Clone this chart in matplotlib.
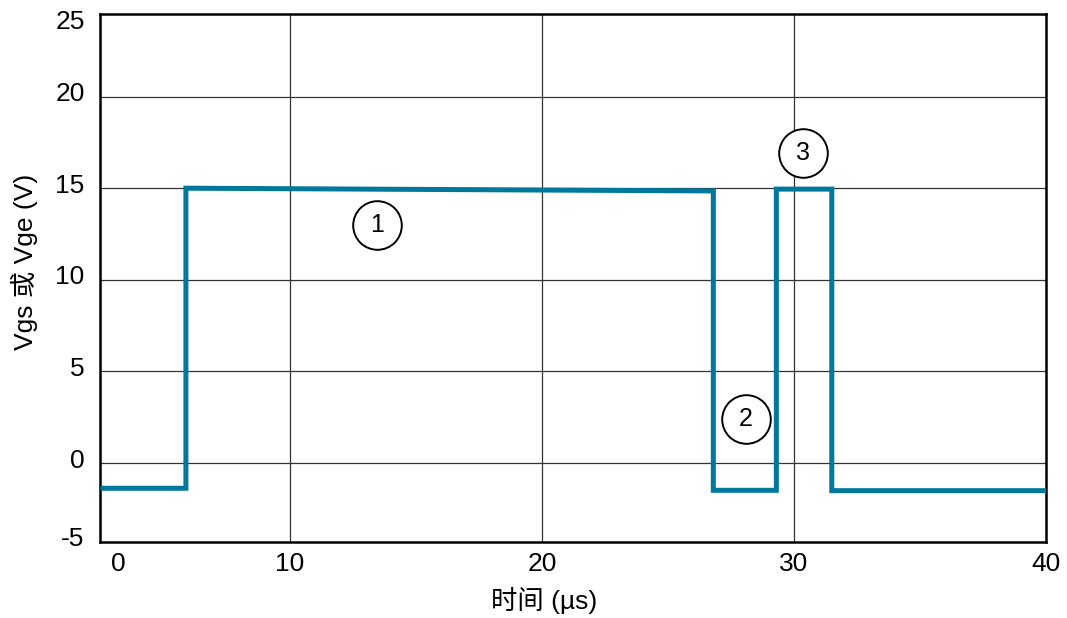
import matplotlib
matplotlib.use('Agg')
import matplotlib.pyplot as plt
import matplotlib.transforms as mtransforms

plt.rcParams['font.family'] = ['Liberation Sans', 'Noto Sans CJK SC', 'DejaVu Sans']

# waveform (time in us, gate voltage in V)
t_us = [2.58, 5.87, 5.87, 26.8, 26.8, 29.3, 29.3, 31.5, 31.5, 40.0]
v_gate = [-1.37, -1.37, 15.0, 14.85, -1.48, -1.48, 14.95, 14.95, -1.5, -1.5]

# circled markers
mark_labels = ['1', '2', '3']
mark_x = [13.45, 28.1, 30.36]
mark_y = [13.0, 2.4, 16.94]

x_ticks = [3.2, 10, 20, 30, 40]
x_ticklabels = ['0', '10', '20', '30', '40']
y_ticks = [-4.3, 0, 5, 10, 15, 20, 23.95]
y_ticklabels = ['-5', '0', '5', '10', '15', '20', '25']

line_color = '#00789c'

fig = plt.figure(figsize=(10.67, 6.18), dpi=100)
ax = fig.add_axes([0.0937, 0.1230, 0.8866, 0.8543])

ax.plot(t_us, v_gate, color=line_color, lw=3.6, solid_joinstyle='miter', zorder=3)

for lab, x, y in zip(mark_labels, mark_x, mark_y):
    ax.plot(x, y, 'o', ms=35, mfc='white', mec='black', mew=1.4, zorder=4)
    ax.text(x, y, lab, ha='center', va='center', fontsize=18, zorder=5)

ax.set_xlim(2.46, 40)
ax.set_ylim(-4.3, 24.5)
ax.set_xticks(x_ticks)
ax.set_xticklabels(x_ticklabels)
ax.set_yticks(y_ticks)
ax.set_yticklabels(y_ticklabels)
ax.tick_params(length=0, labelsize=19)
ax.tick_params(axis='y', pad=11)
ax.tick_params(axis='x', pad=7)

ax.grid(True, color='#333333', lw=0.9)
ax.xaxis.get_gridlines()[0].set_visible(False)
ax.yaxis.get_gridlines()[0].set_visible(False)
ax.yaxis.get_gridlines()[-1].set_visible(False)
ax.set_axisbelow(True)

# nudge y labels up a little, like the reference
offset = mtransforms.ScaledTranslation(0, 5 / 100, fig.dpi_scale_trans)
for lbl in ax.get_yticklabels():
    lbl.set_transform(lbl.get_transform() + offset)

for s in ax.spines.values():
    s.set_linewidth(1.8)
    s.set_color('black')

ax.set_xlabel('时间 (µs)', fontsize=19)
ax.set_ylabel('Vgs 或 Vge (V)', fontsize=19)
ax.xaxis.set_label_coords(0.47, -0.086)
ax.yaxis.set_label_coords(-0.065, 0.53)

fig.savefig('out.png', dpi=100)
